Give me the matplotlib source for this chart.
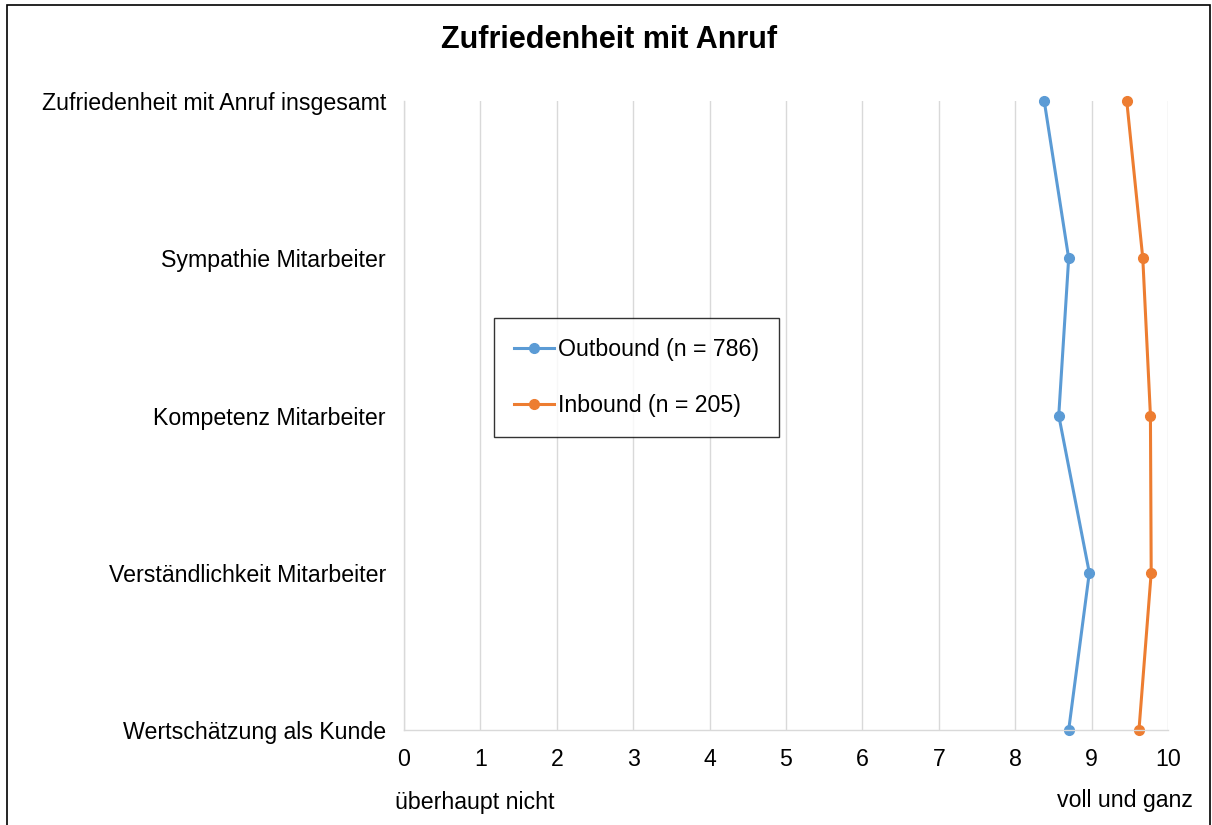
#!/usr/bin/env python
# Zufriedenheit mit Anruf - outbound vs inbound, categories on the y axis

import matplotlib.pyplot as plt
from matplotlib.patches import Rectangle

plt.rcParams['font.family'] = ['Liberation Sans', 'DejaVu Sans']

categories = ['Zufriedenheit mit Anruf insgesamt', 'Sympathie Mitarbeiter',
              'Kompetenz Mitarbeiter', 'Verständlichkeit Mitarbeiter',
              'Wertschätzung als Kunde']
outbound = [8.38, 8.70, 8.57, 8.97, 8.70]
inbound = [9.46, 9.67, 9.77, 9.78, 9.62]
labels = ['Outbound (n = 786)', 'Inbound (n = 205)']
xticks = list(range(0, 11))

W, H = 1212, 825
FS = 16.7
fig = plt.figure(figsize=(W/100, H/100), dpi=100)
ax = fig.add_axes([404/W, 1-730/H, (1168-404)/W, (730-101)/H])

ypos = list(range(len(categories)))
ax.plot(outbound, ypos, color='#5B9BD5', lw=2.2, marker='o', ms=7, label=labels[0], clip_on=False)
ax.plot(inbound, ypos, color='#ED7D31', lw=2.2, marker='o', ms=7, label=labels[1], clip_on=False)

ax.set_xlim(0, 10)
ax.set_ylim(len(categories)-1, 0)
ax.set_xticks(xticks)
ax.set_yticks(ypos)
ax.set_yticklabels(categories)
ax.tick_params(length=0, labelsize=FS)
ax.tick_params(axis='y', pad=13)
ax.tick_params(axis='x', pad=13)
ax.grid(axis='x', color='#D9D9D9', lw=1)
ax.set_axisbelow(True)
for s in ['top', 'right']:
    ax.spines[s].set_visible(False)
for s in ['left', 'bottom']:
    ax.spines[s].set_color('#D9D9D9')
    ax.spines[s].set_linewidth(1)

leg = ax.legend(loc='upper left', bbox_to_anchor=(494/W, 1-318/H),
                bbox_transform=fig.transFigure, fancybox=False, fontsize=FS,
                labelspacing=1.45, handlelength=1.75, handletextpad=0.15,
                borderpad=0.85, borderaxespad=0)
leg.get_frame().set_edgecolor('black')
leg.get_frame().set_linewidth(1)

fig.text(609/W, 1-40/H, 'Zufriedenheit mit Anruf', ha='center', va='center',
         fontsize=22, fontweight='bold')
fig.text(395/W, 1-803/H, 'überhaupt nicht', ha='left', va='center', fontsize=FS)
fig.text(1193/W, 1-800/H, 'voll und ganz', ha='right', va='center', fontsize=FS)

# outer chart frame
fig.patches.append(Rectangle((7/W, -0.1), (1210-7)/W, 1-5/H+0.1, transform=fig.transFigure,
                             fill=False, edgecolor='black', lw=1.2, clip_on=False))

fig.savefig('out.png', dpi=100)
